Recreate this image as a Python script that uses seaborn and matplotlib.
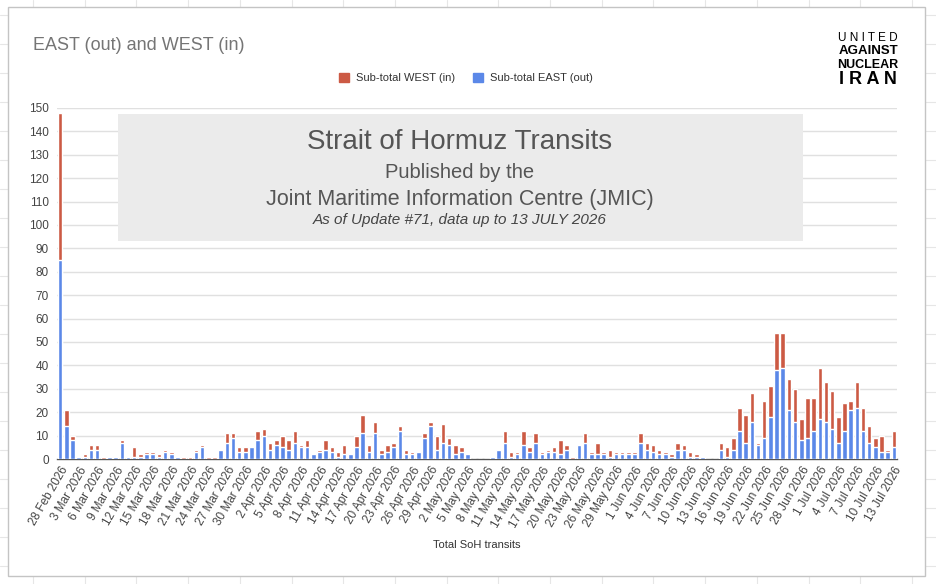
import pandas as pd
import numpy as np
import matplotlib
matplotlib.use('Agg')
import matplotlib.pyplot as plt
from matplotlib.patches import Rectangle, Patch
from matplotlib.lines import Line2D
import seaborn as sns

# Daily transits, 28 Feb 2026 - 13 Jul 2026
dates = pd.date_range('2026-02-28', '2026-07-13', freq='D')

east_out = [85, 14, 8, 1, 1, 4, 4, 0, 1, 1, 7, 1, 1, 1, 2, 2, 1, 3, 2, 1,
            0, 0, 3, 5, 0, 0, 4, 7, 9, 3, 3, 5, 8, 10, 4, 6, 5, 4, 7, 5,
            5, 2, 3, 4, 3, 1, 2, 2, 5, 11, 3, 11, 2, 3, 5, 12, 2, 2, 3, 9,
            14, 4, 7, 6, 2, 3, 2, 0, 0, 0, 1, 4, 7, 1, 2, 6, 3, 7, 2, 3,
            3, 2, 4, 0, 6, 7, 2, 2, 2, 1, 2, 2, 2, 2, 7, 4, 3, 2, 2, 1,
            4, 4, 1, 1, 1, 0, 0, 4, 1, 4, 12, 7, 16, 6, 9, 18, 38, 39, 21, 16,
            8, 9, 12, 17, 16, 13, 7, 12, 21, 22, 12, 7, 5, 3, 3, 5]

west_in = [63, 7, 2, 0, 1, 2, 2, 1, 0, 0, 1, 0, 4, 1, 1, 1, 1, 1, 1, 0,
           1, 1, 1, 1, 1, 1, 0, 4, 2, 2, 2, 0, 4, 3, 3, 2, 5, 4, 5, 1,
           3, 0, 1, 4, 2, 2, 4, 0, 5, 8, 3, 5, 2, 3, 2, 2, 2, 1, 0, 2,
           2, 6, 8, 3, 4, 2, 0, 0, 0, 0, 0, 0, 5, 2, 1, 6, 2, 4, 1, 1,
           2, 6, 2, 1, 0, 4, 1, 5, 1, 3, 1, 1, 1, 1, 4, 3, 3, 2, 1, 1,
           3, 2, 2, 1, 0, 0, 0, 3, 4, 5, 10, 12, 12, 1, 16, 13, 16, 15, 13, 14,
           9, 17, 14, 22, 17, 16, 11, 12, 4, 11, 10, 7, 4, 7, 1, 7]

labels = [f"{d.day} {d.strftime('%b %Y')}" for d in dates]

df = pd.DataFrame({'Date': labels, 'EAST': east_out, 'WEST': west_in})
df['Total'] = df['EAST'] + df['WEST']

red = '#cc5a44'
blue = '#5b88e8'

sns.set_style('white')
plt.rcParams['font.family'] = ['Liberation Sans', 'DejaVu Sans']

fig = plt.figure(figsize=(9.36, 5.84), dpi=100)

# spreadsheet cell lines behind the chart
for x in np.arange(33, 936, 51.7):
    fig.add_artist(Line2D([x / 936, x / 936], [0, 1], color='#e6e6e6', lw=0.8, zorder=-3))
for y in np.arange(15, 584, 29):
    fig.add_artist(Line2D([0, 1], [1 - y / 584, 1 - y / 584], color='#e6e6e6', lw=0.8, zorder=-3))
fig.add_artist(Rectangle((8 / 936, 1 - 576 / 584), 917 / 936, 569 / 584,
                         transform=fig.transFigure, facecolor='white',
                         edgecolor='#c4c4c4', lw=1, zorder=-2))

ax = fig.add_axes([57 / 936, 1 - 459 / 584, 840 / 936, 351 / 584])
ax.patch.set_alpha(0)

sns.barplot(data=df, x='Date', y='Total', color=red, width=0.74,
            saturation=1, ax=ax, zorder=3)
sns.barplot(data=df, x='Date', y='EAST', color=blue, width=0.74,
            saturation=1, ax=ax, zorder=4)

ax.set_ylim(0, 150)
ax.set_xlim(-0.5, len(df) - 0.5)
ax.set_yticks(range(0, 151, 10))
ax.yaxis.grid(True, color='#e0e0e0', lw=1, zorder=0)
ax.set_axisbelow(True)
for s in ['top', 'right', 'left']:
    ax.spines[s].set_visible(False)
ax.spines['bottom'].set_color('#555555')
ax.spines['bottom'].set_linewidth(1)
ax.tick_params(axis='y', length=0, labelsize=8.5, labelcolor='#444444', pad=6)

tick_pos = list(range(0, len(df), 3))
ax.set_xticks(tick_pos)
ax.set_xticklabels([labels[i] for i in tick_pos], rotation=60, ha='right',
                   rotation_mode='anchor', fontsize=8.5, color='#444444')
ax.tick_params(axis='x', length=0, pad=4)
ax.set_xlabel('')
ax.set_ylabel('')

fig.text(477 / 936, 1 - 545 / 584, 'Total SoH transits', ha='center', va='center',
         fontsize=8, color='#333333')

# title
fig.text(33 / 936, 1 - 45 / 584, 'EAST (out) and WEST (in)', ha='left', va='center',
         fontsize=13, color='#757575')

# legend
handles = [Patch(color=red, label='Sub-total WEST (in)'),
           Patch(color=blue, label='Sub-total EAST (out)')]
fig.legend(handles=handles, loc='center', bbox_to_anchor=(466 / 936, 1 - 78 / 584),
           ncol=2, frameon=False, fontsize=8, handlelength=0.9, handleheight=0.9,
           handletextpad=0.6, columnspacing=1.6, labelcolor='#333333')

# logo
fig.text(868 / 936, 1 - 38 / 584, 'U N I T E D', ha='center', va='center',
         fontsize=8.5, color='black')
fig.text(868 / 936, 1 - 51 / 584, 'AGAINST', ha='center', va='center',
         fontsize=9.5, fontweight='bold', color='black')
fig.text(868 / 936, 1 - 65 / 584, 'NUCLEAR', ha='center', va='center',
         fontsize=9, fontweight='bold', color='black')
fig.text(868 / 936, 1 - 79 / 584, 'I R A N', ha='center', va='center',
         fontsize=13, fontweight='bold', color='black')

# overlay box
fig.add_artist(Rectangle((118 / 936, 1 - 241 / 584), 685 / 936, 127 / 584,
                         transform=fig.transFigure, facecolor='#ebebeb',
                         edgecolor='none', zorder=5))
cx = 460 / 936
fig.text(cx, 1 - 142 / 584, 'Strait of Hormuz Transits', ha='center', va='center',
         fontsize=20, color='#555555', zorder=6)
fig.text(cx, 1 - 172 / 584, 'Published by the', ha='center', va='center',
         fontsize=14.5, color='#555555', zorder=6)
fig.text(cx, 1 - 199 / 584, 'Joint Maritime Information Centre (JMIC)', ha='center',
         va='center', fontsize=15.5, color='#555555', zorder=6)
fig.text(cx, 1 - 220 / 584, 'As of Update #71, data up to 13 JULY 2026', ha='center',
         va='center', fontsize=11, style='italic', color='#444444', zorder=6)

fig.savefig('out.png', dpi=100)
